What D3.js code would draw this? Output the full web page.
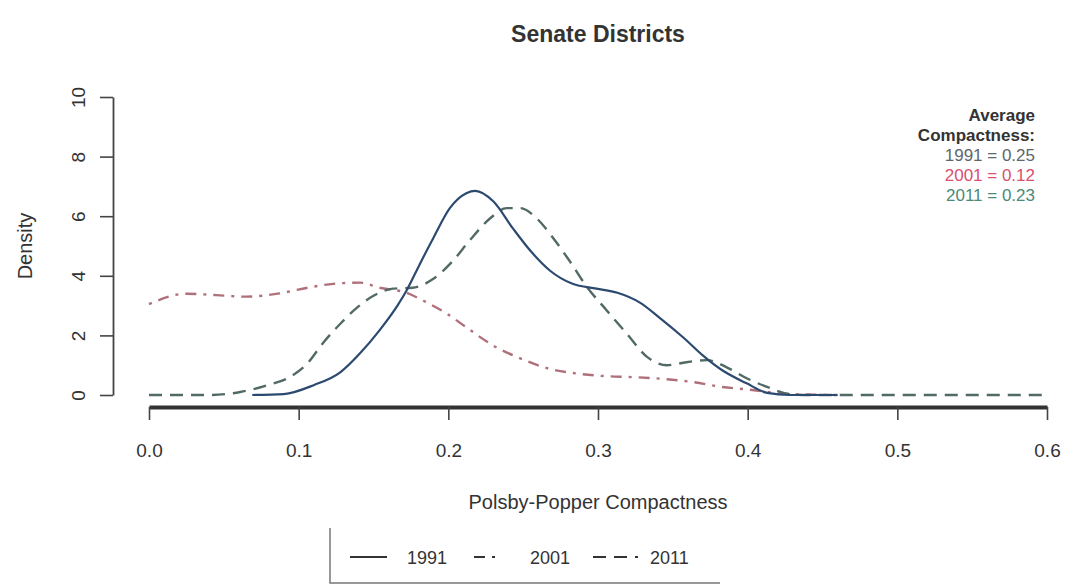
<!DOCTYPE html>
<html>
<head>
<meta charset="utf-8">
<script src="https://cdn.jsdelivr.net/npm/d3@7"></script>
<style>
  body { margin: 0; background: #fff; }
  svg { display: block; font-family: "Liberation Sans", Arial, sans-serif; }
</style>
</head>
<body>
<svg id="chart" width="1079" height="585"></svg>
<script>
// ---- data ----
const xTicks = [0, 0.1, 0.2, 0.3, 0.4, 0.5, 0.6];
const yTicks = [0, 2, 4, 6, 8, 10];

const x1991 = [0.069, 0.09, 0.11, 0.128, 0.141, 0.154, 0.166, 0.172, 0.181, 0.19, 0.201, 0.212, 0.218, 0.23, 0.243, 0.255, 0.268, 0.283, 0.299, 0.313, 0.328, 0.341, 0.357, 0.37, 0.383, 0.399, 0.413, 0.428, 0.46];
const d1991 = [0, 0.03, 0.33, 0.77, 1.4, 2.17, 3.0, 3.5, 4.4, 5.27, 6.27, 6.77, 6.85, 6.5, 5.6, 4.83, 4.17, 3.73, 3.57, 3.43, 3.1, 2.6, 1.93, 1.33, 0.83, 0.4, 0.07, 0, 0];

const x2001 = [0, 0.025, 0.045, 0.065, 0.086, 0.106, 0.123, 0.141, 0.154, 0.172, 0.183, 0.199, 0.212, 0.232, 0.248, 0.266, 0.286, 0.306, 0.323, 0.346, 0.364, 0.383, 0.403, 0.428, 0.46];
const d2001 = [3.05, 3.4, 3.35, 3.3, 3.4, 3.6, 3.73, 3.77, 3.6, 3.43, 3.17, 2.73, 2.27, 1.6, 1.23, 0.9, 0.72, 0.63, 0.6, 0.53, 0.43, 0.27, 0.17, 0.03, 0];

const x2011 = [0, 0.039, 0.061, 0.079, 0.094, 0.106, 0.116, 0.128, 0.139, 0.15, 0.163, 0.176, 0.19, 0.203, 0.214, 0.228, 0.239, 0.248, 0.259, 0.27, 0.281, 0.293, 0.306, 0.319, 0.333, 0.346, 0.359, 0.373, 0.386, 0.399, 0.413, 0.428, 0.44, 0.6];
const d2011 = [0, 0, 0.1, 0.33, 0.6, 1.07, 1.73, 2.4, 2.93, 3.33, 3.57, 3.6, 3.9, 4.5, 5.17, 5.93, 6.27, 6.27, 5.93, 5.27, 4.5, 3.6, 2.83, 2.07, 1.27, 1.0, 1.1, 1.17, 0.93, 0.57, 0.27, 0.03, 0, 0];

const seriesNames = ["1991", "2001", "2011"];
const averages = ["0.25", "0.12", "0.23"];

// ---- drawing ----
const svg = d3.select("#chart");
const x = d3.scaleLinear().domain([0, 0.6]).range([149, 1047]);
const y = d3.scaleLinear().domain([0, 10]).range([395, 97]);

const styles = [
  { color: "#2c4a70", dash: null, width: 2.2 },
  { color: "#b0707a", dash: "3,7,11,7", width: 2.4 },
  { color: "#526a66", dash: "13,8", width: 2.4 }
];
const textColors = ["#5d666c", "#d8506e", "#4b8a76"];

const series = [
  x1991.map((v, i) => [v, d1991[i]]),
  x2001.map((v, i) => [v, d2001[i]]),
  x2011.map((v, i) => [v, d2011[i]])
];

const line = d3.line().x(d => x(d[0])).y(d => y(d[1])).curve(d3.curveMonotoneX);

// order drawn: 2001, 2011, 1991 on top
[1, 2, 0].forEach(i => {
  svg.append("path")
    .datum(series[i])
    .attr("d", line)
    .attr("fill", "none")
    .attr("stroke", styles[i].color)
    .attr("stroke-width", styles[i].width)
    .attr("stroke-dasharray", styles[i].dash)
    .attr("stroke-linejoin", "round");
});

// x axis
const xAxis = svg.append("g")
  .attr("transform", "translate(0,407)")
  .call(d3.axisBottom(x).tickValues(xTicks).tickFormat(d3.format(".1f")).tickSize(13).tickSizeOuter(0).tickPadding(24));
xAxis.select(".domain").attr("stroke", "#333").attr("stroke-width", 4);
xAxis.selectAll(".tick line").attr("stroke", "#444").attr("stroke-width", 1.6);
xAxis.selectAll(".tick text").attr("font-size", 19).attr("fill", "#333").attr("font-family", "Liberation Sans, Arial, sans-serif");

// y axis
const yAxis = svg.append("g")
  .attr("transform", "translate(113,0)")
  .call(d3.axisLeft(y).tickValues(yTicks).tickSize(13).tickSizeOuter(0));
yAxis.select(".domain").attr("stroke", "#444").attr("stroke-width", 1.8);
yAxis.selectAll(".tick line").attr("stroke", "#444").attr("stroke-width", 1.6);
yAxis.selectAll(".tick text")
  .attr("font-size", 19).attr("fill", "#333")
  .attr("font-family", "Liberation Sans, Arial, sans-serif")
  .attr("text-anchor", "middle")
  .attr("x", 0).attr("dy", null)
  .attr("transform", "translate(-35,0) rotate(-90)")
  .attr("y", 0)
  .attr("dominant-baseline", "central");

// titles
svg.append("text").attr("x", 598).attr("y", 42).attr("text-anchor", "middle")
  .attr("font-size", 23).attr("font-weight", "bold").attr("fill", "#333").text("Senate Districts");
svg.append("text").attr("x", 598).attr("y", 509).attr("text-anchor", "middle")
  .attr("font-size", 20).attr("fill", "#333").text("Polsby-Popper Compactness");
svg.append("text").attr("transform", "translate(32,246) rotate(-90)").attr("text-anchor", "middle")
  .attr("font-size", 20).attr("fill", "#333").text("Density");

// top-right annotation
const ann = svg.append("g").attr("font-size", 17).attr("text-anchor", "end");
ann.append("text").attr("x", 1035).attr("y", 121).attr("font-weight", "bold").attr("fill", "#333").text("Average");
ann.append("text").attr("x", 1035).attr("y", 141).attr("font-weight", "bold").attr("fill", "#333").text("Compactness:");
seriesNames.forEach((s, i) => {
  ann.append("text").attr("x", 1035).attr("y", 161 + i * 20).attr("fill", textColors[i])
    .text(s + " = " + averages[i]);
});

// bottom legend
svg.append("path").attr("d", "M330,528V583H720").attr("fill", "none").attr("stroke", "#777").attr("stroke-width", 1.5);
const legX = [[350, 387, 407], [474, 502, 530], [593, 638, 650]];
seriesNames.forEach((s, i) => {
  svg.append("line").attr("x1", legX[i][0]).attr("x2", legX[i][1]).attr("y1", 557).attr("y2", 557)
    .attr("stroke", "#333").attr("stroke-width", 2).attr("stroke-dasharray", i === 0 ? null : (i === 1 ? "11,7,3,7" : "13,8"));
  svg.append("text").attr("x", legX[i][2]).attr("y", 564).attr("font-size", 18).attr("fill", "#333").text(s);
});
</script>
</body>
</html>
